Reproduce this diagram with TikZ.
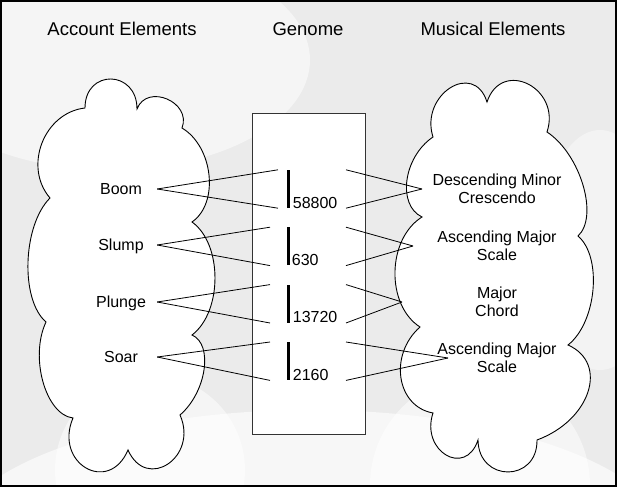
\documentclass[tikz,border=0pt]{standalone}
\usepackage{fontspec}
\setmainfont{Liberation Sans}
\usetikzlibrary{calc,positioning}

\tikzset{
  lobe/.style={to path={.. controls ($0.1333*(\tikztostart)+1.3333*(#1)-0.4667*(\tikztotarget)$) and ($0.1333*(\tikztotarget)+1.3333*(#1)-0.4667*(\tikztostart)$) .. (\tikztotarget)}},
  bump/.style={to path={.. controls ($0.3333*(\tikztostart)+1.3333*(#1)-0.6667*(\tikztotarget)$) and ($0.3333*(\tikztotarget)+1.3333*(#1)-0.6667*(\tikztostart)$) .. (\tikztotarget)}},
  cloudline/.style={draw=black, fill=white, line width=0.9pt},
  title/.style={font=\fontsize{18.5}{22}\selectfont, inner sep=0pt},
  word/.style={font=\fontsize{16}{18}\selectfont, inner sep=0pt, text height=11.5pt, text depth=0pt},
  acct/.style={word, minimum width=72pt},
  music/.style={font=\fontsize{16}{18}\selectfont, inner sep=0pt, align=center},
  num/.style={word, anchor=base west},
  bar/.style={fill=black, minimum width=3pt, minimum height=38pt, inner sep=0pt},
  link/.style={line width=0.8pt}
}

\begin{document}
\begin{tikzpicture}[x=1pt,y=-1pt]
\useasboundingbox (0,0) rectangle (619,489);

% background with faint clouds
\fill[black!8] (1,1) rectangle (616,486);
\begin{scope}
\clip (1,1) rectangle (616,486);
\fill[white,opacity=0.6] (310,545) ellipse (360 and 135);
\fill[white,opacity=0.5] (110,60) ellipse (200 and 110);
\fill[white,opacity=0.5] (150,470) circle (95);
\fill[white,opacity=0.5] (480,485) circle (110);
\fill[white,opacity=0.4] (600,250) ellipse (60 and 120);
\end{scope}
\draw[line width=2pt] (1,1) rectangle (616,486);

% titles
\node[title] (acct) at (122,29) {Account Elements};
\node[title] (gen) at (308,29) {Genome};
\node[title] (mus) at (493,29) {Musical Elements};

% left cloud
\draw[cloudline] (85,108) to[bump={111,79}] (137,109) to[bump={167,99}] (182,128)
  to[lobe={209,175}] (192,222) to[lobe={215,278}] (192,335) to[lobe={204,370}] (180,415)
  to[bump={168,464}] (128,450) to[bump={86,468}] (73,418) to[lobe={43,382}] (46,322)
  to[lobe={28,262}] (50,198) to[lobe={42,143}] (85,108) -- cycle;

% right cloud
\draw[cloudline] (422,217) to[lobe={407,180}] (433,137) to[bump={450,88}] (487,102)
  to[bump={528,84}] (547,132) to[lobe={583,185}] (578,236) to[lobe={593,290}] (568,345)
  to[lobe={588,392}] (537,440) to[bump={508,472}] (478,440) to[bump={446,455}] (433,413)
  to[lobe={401,378}] (420,327) to[lobe={395,272}] (422,217) -- cycle;

% genome box
\node[draw=black!80, fill=white, line width=0.8pt, minimum width=113pt, minimum height=321pt] (genome) at (308.5,273.5) {};

% account words
\node[acct] (boom) at (121,189) {Boom};
\node[acct] (slump) at (121,245) {Slump};
\node[acct] (plunge) at (121,302) {Plunge};
\node[acct] (soar) at (121,357) {Soar};

% musical words
\node[music] (desc) at (497,189) {Descending Minor\\Crescendo};
\node[music] (asc) at (497,246) {Ascending Major\\Scale};
\node[music] (chord) at (497,302) {Major\\Chord};
\node[music] (asc2) at (497,358) {Ascending Major\\Scale};

\coordinate (m1) at (422,189);
\coordinate (m2) at (413,246);
\coordinate (m3) at (402,302);
\coordinate (m4) at (448,358);

% genes
\node[bar] (g1) at (288,189) {};
\node[bar] (g2) [below=19pt of g1] {};
\node[bar] (g3) [below=19pt of g2] {};
\node[bar] (g4) [below=19pt of g3] {};

\node[num] (n1) at ([xshift=3pt]g1.south east) {58800};
\node[num] (n2) at ([xshift=2pt]g2.south east) {630};
\node[num] (n3) at ([xshift=3pt]g3.south east) {13720};
\node[num] (n4) at ([xshift=3pt]g4.south east) {2160};

% links
\draw[link] (boom.east) -- ([xshift=-10pt]g1.north);
\draw[link] (boom.east) -- ([xshift=-10pt]g1.south);
\draw[link] (slump.east) -- ([xshift=-18pt]g2.north);
\draw[link] (slump.east) -- ([xshift=-18pt]g2.south);
\draw[link] (plunge.east) -- ([xshift=-18pt]g3.north);
\draw[link] (plunge.east) -- ([xshift=-18pt]g3.south);
\draw[link] (soar.east) -- ([xshift=-18pt]g4.north);
\draw[link] (soar.east) -- ([xshift=-18pt]g4.south);

\draw[link] ([xshift=58pt]g1.north) -- (m1);
\draw[link] ([xshift=58pt]g1.south) -- (m1);
\draw[link] ([xshift=58pt]g2.north) -- (m2);
\draw[link] ([xshift=58pt]g2.south) -- (m2);
\draw[link] ([xshift=58pt]g3.north) -- (m3);
\draw[link] ([xshift=58pt]g3.south) -- (m3);
\draw[link] ([xshift=58pt]g4.north) -- (m4);
\draw[link] ([xshift=58pt]g4.south) -- (m4);

\end{tikzpicture}
\end{document}
